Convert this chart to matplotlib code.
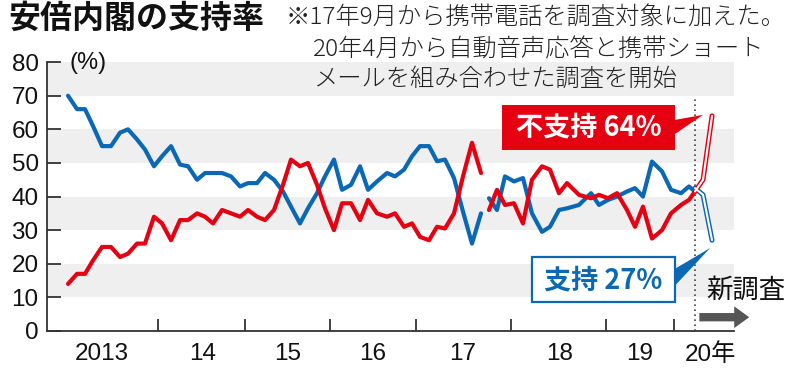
import matplotlib.pyplot as plt
from matplotlib.patches import Rectangle
import numpy as np

plt.rcParams['font.family'] = ['Noto Sans CJK JP', 'DejaVu Sans']

# x = months since the start of the series (Dec 2012)
# old-method surveys, up to summer 2017
x1 = [0, 1.25, 2.36, 3.47, 4.72, 5.97, 7.22, 8.33, 9.58, 10.69, 11.94, 13.06, 14.31,
      15.56, 16.67, 17.92, 19.03, 20.14, 21.39, 22.64, 23.89, 25.0, 26.25, 27.36,
      28.61, 29.86, 30.97, 32.22, 33.33, 34.58, 35.69, 36.94, 38.06, 39.31, 40.56,
      41.67, 42.92, 44.31, 45.42, 46.67, 47.78, 48.89, 50.14, 51.25, 52.36, 53.61,
      54.86, 56.11, 57.36]
shiji1 = [70, 66, 66, 61, 55, 55, 59, 60, 57, 54, 49, 52, 55,
          49.5, 49, 45, 47, 47, 47, 46, 43, 44, 44, 47,
          45, 41.5, 37, 32, 36.5, 41, 46, 51, 42, 43.5, 49,
          42, 44.5, 47, 46, 48, 52, 55, 55, 50.5, 51, 45.5,
          35.5, 26, 35]
fushiji1 = [14, 17, 17, 21, 25, 25, 22, 23, 26, 26, 34, 32, 27,
            33, 33, 35, 34, 32, 36, 35, 34, 36, 34, 33,
            36, 43.5, 51, 49, 50, 43.5, 36.5, 30, 38, 38, 33,
            39, 35, 34, 35, 31, 32, 28, 27, 31, 30.5, 35,
            46, 56, 47]

# surveys with mobile phones (from Sep 2017)
x2 = [58.47, 59.58, 60.69, 61.94, 63.19, 64.44, 65.83, 66.94, 68.19, 69.31, 70.97,
      72.64, 73.75, 75.0, 76.25, 77.64, 78.75, 79.86, 81.11, 82.5, 83.75, 85.14,
      86.25, 87.08]
shiji2 = [39.5, 36, 46, 44.5, 45.5, 35, 29.5, 31, 36, 36.5, 37.5,
          41, 37.5, 39, 40, 41.5, 42.5, 40, 50.4, 47.5, 42, 41,
          43, 41.5]
fushiji2 = [36, 42, 37.5, 38, 32, 45, 49, 48, 41, 44, 40.5,
            39.5, 40.5, 39.5, 41, 36, 31, 37, 27.5, 30, 35, 37.5,
            39, 41.5]

# new survey (Apr 2020)
x3 = [87.08, 88.2, 89.45]
shiji3 = [42.5, 40.5, 27]
fushiji3 = [41.5, 45, 64]

year_edges = [12.5, 24.58, 36.39, 48.33, 61.53, 74.72, 84.17]
year_mid = [4.72, 18.75, 30.56, 42.36, 54.86, 68.33, 79.44, 89.17]
year_labels = ['2013', '14', '15', '16', '17', '18', '19', '20年']
new_start = 87.08

RED = '#e50012'
BLUE = '#0a68b4'

fig = plt.figure(figsize=(8, 3.69), dpi=100)
ax = fig.add_axes([0.05875, 0.103, 0.85875, 0.7287])
ax.set_xlim(-2.92, 92.5)
ax.set_ylim(0, 80)

# gray bands
for lo in [10, 30, 50, 70]:
    ax.axhspan(lo, lo + 10, color='#efefef', lw=0, zorder=0)

ax.plot(x1, shiji1, color=BLUE, lw=3, solid_joinstyle='round', solid_capstyle='round', zorder=3)
ax.plot(x1, fushiji1, color=RED, lw=3, solid_joinstyle='round', solid_capstyle='round', zorder=3)
ax.plot(x2, shiji2, color=BLUE, lw=3, solid_joinstyle='round', solid_capstyle='round', zorder=3)
ax.plot(x2, fushiji2, color=RED, lw=3, solid_joinstyle='round', solid_capstyle='round', zorder=3)

# hollow lines for the new survey
for y, c in [(shiji3, BLUE), (fushiji3, RED)]:
    ax.plot(x3, y, color=c, lw=3.6, solid_joinstyle='round', solid_capstyle='round', zorder=4)
    ax.plot(x3, y, color='white', lw=1.5, solid_joinstyle='round', solid_capstyle='round', zorder=5)

ax.plot([new_start, new_start], [0, 70], color='#444444', lw=1.2, ls=(0, (1, 2)), zorder=2)

# axes
for s in ['top', 'right']:
    ax.spines[s].set_visible(False)
for s in ['left', 'bottom']:
    ax.spines[s].set_color('#333333')
    ax.spines[s].set_linewidth(1.3)

ax.set_yticks(np.arange(0, 81, 10))
ax.tick_params(axis='y', direction='in', length=10, width=1.3, color='#333333',
               pad=6, labelsize=17.5, labelcolor='#111111')
ax.set_xticks(year_edges)
ax.set_xticklabels([])
ax.set_xticks(year_mid, minor=True)
ax.set_xticklabels(year_labels, minor=True)
ax.tick_params(axis='x', which='major', direction='in', length=9, width=1.3, color='#333333')
ax.tick_params(axis='x', which='minor', length=0, pad=9, labelsize=17.5, labelcolor='#111111')
for lab in ax.get_yticklabels() + ax.get_xticklabels(minor=True):
    lab.set_family(['Liberation Sans', 'Noto Sans CJK JP'])

ax.text(2.8, 79.7, '(%)', ha='center', va='center', fontsize=17, color='#111111',
        family=['Liberation Sans'])

# callout labels
ax.add_patch(Rectangle((60.3, 53.8), 24.0, 13.4, fc=RED, ec='none', zorder=6))
ax.text(72.3, 60.5, '不支持 64%', ha='center', va='center', fontsize=19.5, fontweight='bold',
        color='white', zorder=7)
ax.fill([84.3, 84.3, 88.2], [62.8, 58.6, 64.3], color=RED, lw=0, zorder=6)

ax.add_patch(Rectangle((64.45, 8.6), 19.85, 13.4, fc='white', ec=BLUE, lw=1.6, zorder=6))
ax.text(74.4, 15.1, '支持 27%', ha='center', va='center', fontsize=19.5, fontweight='bold',
        color=BLUE, zorder=7)
ax.fill([84.3, 84.3, 89.2], [18.5, 13.5, 24.7], color=BLUE, lw=0, zorder=6)

ax.text(94.2, 12.1, '新調査', ha='center', va='center', fontsize=19, color='#111111',
        clip_on=False)
ax.annotate('', xy=(95.0, 4.1), xytext=(87.3, 4.1), annotation_clip=False,
            arrowprops=dict(arrowstyle='simple,head_length=0.9,head_width=1.3,tail_width=0.5',
                            fc='#555555', ec='none', mutation_scale=12))

fig.text(0.01, 0.9485, '安倍内閣の支持率', ha='left', va='center', fontsize=23,
         fontweight='bold', color='#111111')
fig.text(0.357, 0.951, '※17年9月から携帯電話を調査対象に加えた。', ha='left', va='center',
         fontsize=17.5, fontweight='light', color='#222222')
fig.text(0.391, 0.8645, '20年4月から自動音声応答と携帯ショート', ha='left', va='center',
         fontsize=17.5, fontweight='light', color='#222222')
fig.text(0.391, 0.786, 'メールを組み合わせた調査を開始', ha='left', va='center',
         fontsize=17.5, fontweight='light', color='#222222')

fig.savefig('out.png', dpi=100)
